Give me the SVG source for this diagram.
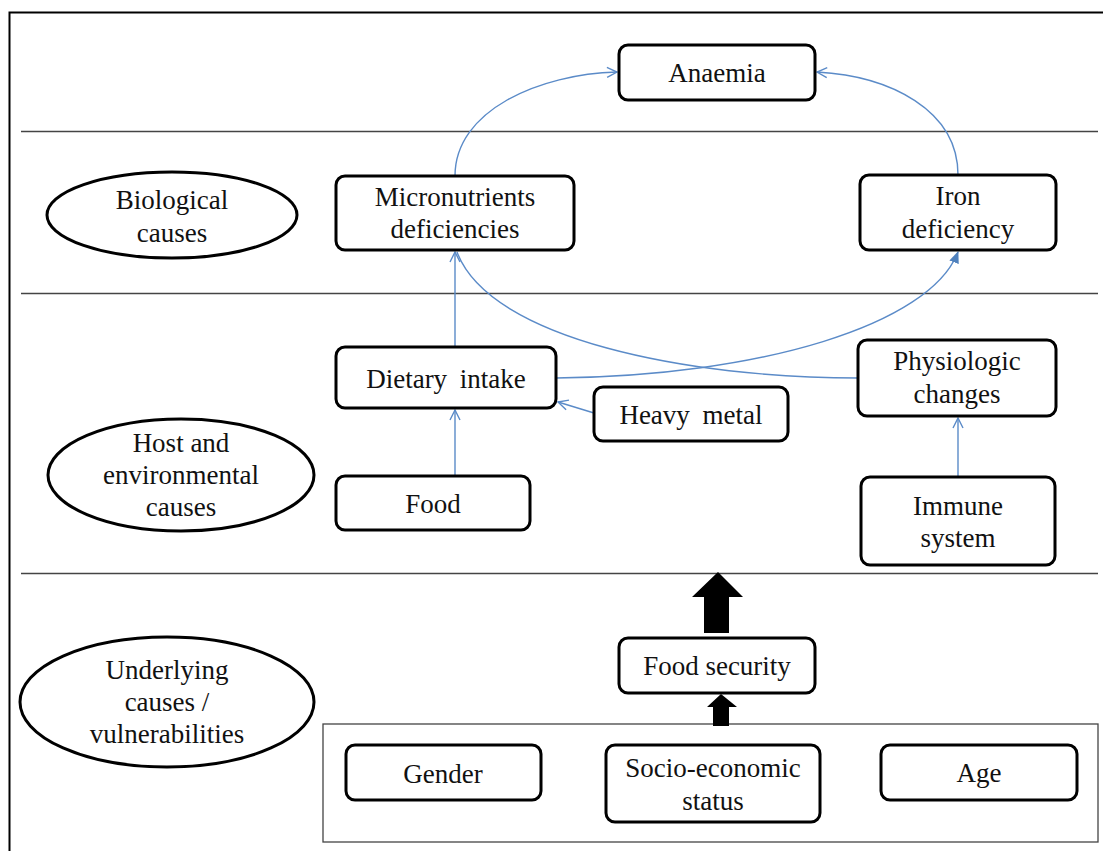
<svg xmlns="http://www.w3.org/2000/svg" width="1103" height="851" viewBox="0 0 1103 851" font-family="Liberation Serif, Times New Roman, DejaVu Serif, serif">
<style>
.frame{fill:none;stroke:#000;stroke-width:2}
.sep{fill:none;stroke:#444;stroke-width:1.3}
.box{fill:#fff;stroke:#000;stroke-width:3}
.ell{fill:#fff;stroke:#000;stroke-width:3}
.grp{fill:#fff;stroke:#444;stroke-width:1.3}
.t{font-size:27px;fill:#111;text-anchor:middle}
.c{fill:none;stroke:#5B8BC8;stroke-width:1.4}
.thick{fill:#000;stroke:none}
</style>
<defs>
<marker id="open" viewBox="0 0 12 12" refX="11" refY="6" markerWidth="12" markerHeight="12" markerUnits="userSpaceOnUse" orient="auto">
<path d="M1,1 L11,6 L1,11" fill="none" stroke="#5B8BC8" stroke-width="1.4"/>
</marker>
<marker id="fill" viewBox="0 0 12 12" refX="11" refY="6" markerWidth="12" markerHeight="12" markerUnits="userSpaceOnUse" orient="auto">
<path d="M0,1 L12,6 L0,11 Z" fill="#4F81BD"/>
</marker>
</defs>
<rect width="1103" height="851" fill="#fff"/>
<path class="frame" d="M9.5,851 V12.5 H1103"/>
<line class="sep" x1="21" y1="131.5" x2="1098" y2="131.5"/>
<line class="sep" x1="21" y1="293.5" x2="1098" y2="293.5"/>
<line class="sep" x1="21" y1="573.5" x2="1098" y2="573.5"/>
<g id="group-underlying">
<rect class="grp" x="323" y="724" width="775" height="118"/>
</g>
<g id="connectors">
<path class="c" d="M455,176 C455,110 540,74 617,72" marker-end="url(#open)"/>
<path class="c" d="M958,175 C958,110 890,76 817,72" marker-end="url(#open)"/>
<path class="c" d="M455,347 L455,252" marker-end="url(#open)"/>
<path class="c" d="M455,476 L455,410" marker-end="url(#open)"/>
<path class="c" d="M594,413 L558,402" marker-end="url(#open)"/>
<path class="c" d="M958,477 L958,418" marker-end="url(#open)"/>
<path class="c" d="M556,378 C760,376 930,325 958,252" marker-end="url(#fill)"/>
<path class="c" d="M858,378 C690,378 490,340 457,252"/>
<path class="thick" d="M704,633 V597 H692 L718,572 L743,597 H729 V633 Z"/>
<path class="thick" d="M713,726 V707 H707 L721,694 L737,707 H729 V726 Z"/>
</g>
<g id="ell-biological">
<ellipse class="ell" cx="172" cy="215" rx="125" ry="43"/>
<text class="t" x="172" y="209">Biological</text>
<text class="t" x="172" y="242">causes</text>
</g>
<g id="ell-host">
<ellipse class="ell" cx="181" cy="475" rx="133" ry="56"/>
<text class="t" x="181" y="452">Host and</text>
<text class="t" x="181" y="484">environmental</text>
<text class="t" x="181" y="516">causes</text>
</g>
<g id="ell-underlying">
<ellipse class="ell" cx="167" cy="702" rx="147" ry="65"/>
<text class="t" x="167" y="679">Underlying</text>
<text class="t" x="167" y="711">causes /</text>
<text class="t" x="167" y="743">vulnerabilities</text>
</g>
<g id="anaemia">
<rect class="box" x="619" y="45" width="196" height="55" rx="9"/>
<text class="t" x="717" y="82">Anaemia</text>
</g>
<g id="micronutrients">
<rect class="box" x="336" y="176" width="238" height="74" rx="9"/>
<text class="t" x="455" y="206">Micronutrients</text>
<text class="t" x="455" y="238">deficiencies</text>
</g>
<g id="iron">
<rect class="box" x="860" y="175" width="196" height="75" rx="9"/>
<text class="t" x="958" y="205">Iron</text>
<text class="t" x="958" y="238">deficiency</text>
</g>
<g id="dietary">
<rect class="box" x="336" y="347" width="220" height="61" rx="9"/>
<text class="t" x="446" y="388" word-spacing="6">Dietary intake</text>
</g>
<g id="heavy">
<rect class="box" x="594" y="387" width="194" height="54" rx="9"/>
<text class="t" x="691" y="424" word-spacing="6">Heavy metal</text>
</g>
<g id="physiologic">
<rect class="box" x="858" y="340" width="198" height="76" rx="9"/>
<text class="t" x="957" y="370">Physiologic</text>
<text class="t" x="957" y="403">changes</text>
</g>
<g id="food">
<rect class="box" x="336" y="476" width="194" height="54" rx="9"/>
<text class="t" x="433" y="513">Food</text>
</g>
<g id="immune">
<rect class="box" x="861" y="477" width="194" height="88" rx="9"/>
<text class="t" x="958" y="515">Immune</text>
<text class="t" x="958" y="547">system</text>
</g>
<g id="foodsecurity">
<rect class="box" x="619" y="638" width="196" height="55" rx="9"/>
<text class="t" x="717" y="675">Food security</text>
</g>
<g id="gender">
<rect class="box" x="346" y="745" width="195" height="55" rx="9"/>
<text class="t" x="443" y="783">Gender</text>
</g>
<g id="socio">
<rect class="box" x="606" y="745" width="214" height="77" rx="9"/>
<text class="t" x="713" y="777">Socio-economic</text>
<text class="t" x="713" y="810">status</text>
</g>
<g id="age">
<rect class="box" x="881" y="745" width="196" height="55" rx="9"/>
<text class="t" x="979" y="782">Age</text>
</g>
</svg>
